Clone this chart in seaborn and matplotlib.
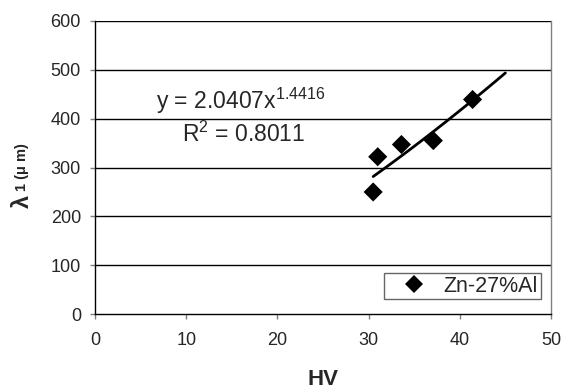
import numpy as np
import pandas as pd
import matplotlib
matplotlib.use('Agg')
import matplotlib.pyplot as plt
import seaborn as sns

# data
hv = [30.5, 31.0, 33.6, 37.1, 41.4]
lam1 = [250, 322, 347, 355, 439]
series_name = 'Zn-27%Al'

# power trendline as printed on the chart: y = a * x^b
fit_a = 2.0407
fit_b = 1.4416
fit_range = [30.5, 45.0]

xticks = [0, 10, 20, 30, 40, 50]
yticks = [0, 100, 200, 300, 400, 500, 600]

sns.set_style('white')
plt.rcParams['font.family'] = ['Liberation Sans', 'DejaVu Sans']
plt.rcParams['mathtext.fontset'] = 'custom'
plt.rcParams['mathtext.rm'] = 'Liberation Sans'
plt.rcParams['mathtext.it'] = 'Liberation Sans'

df = pd.DataFrame({'HV': hv, 'lam': lam1, 'alloy': series_name})
xs = np.linspace(fit_range[0], fit_range[1], 60)
trend = pd.DataFrame({'HV': xs, 'lam': fit_a * xs ** fit_b})

fig = plt.figure(figsize=(5.71, 3.9), dpi=100)
ax = fig.add_axes([95 / 571, 1 - 314.3 / 390, 456 / 571, 293.6 / 390])

for y in yticks[1:]:
    ax.axhline(y, color='black', lw=1.0, zorder=1)

sns.lineplot(data=trend, x='HV', y='lam', ax=ax, color='black', lw=2.0,
             legend=False, zorder=2)
sns.scatterplot(data=df, x='HV', y='lam', hue='alloy', palette=['black'],
                marker='D', s=95, edgecolor='black', linewidth=0, ax=ax, zorder=3)

ax.set_xlim(0, 50)
ax.set_ylim(0, 600)
ax.set_xticks(xticks)
ax.set_yticks(yticks)
ax.tick_params(axis='both', direction='out', length=3.6, width=1, labelsize=13,
               color='#808080', left=True, bottom=True)
ax.tick_params(axis='y', pad=6.5)
ax.tick_params(axis='x', pad=9.5)
ax.set_xlabel('')
ax.set_ylabel('')

for side in ['left', 'bottom']:
    ax.spines[side].set_color('black')
    ax.spines[side].set_linewidth(1.0)
ax.spines['top'].set_visible(False)
ax.spines['right'].set_color('#808080')
ax.spines['right'].set_linewidth(1.0)

leg = ax.legend(loc='lower right', bbox_to_anchor=(0.977, 0.051), borderaxespad=0,
                fontsize=15.5, frameon=True, fancybox=False, borderpad=0.12,
                handlelength=2.6, handletextpad=0.05, markerscale=0.9)
leg.get_frame().set_edgecolor('#404040')
leg.get_frame().set_linewidth(1.0)

fig.text(156 / 571, 1 - 109 / 390, r'y = 2.0407x$^{\mathregular{1.4416}}$',
         fontsize=16.5, va='baseline', ha='left')
fig.text(181.7 / 571, 1 - 141.7 / 390, r'R$^{\mathregular{2}}$ = 0.8011',
         fontsize=16.5, va='baseline', ha='left')

fig.text(323 / 571, 1 - 385 / 390, 'HV', fontsize=16, fontweight='bold',
         ha='center', va='baseline')
fig.text(22 / 571, 1 - 201 / 390, 'λ', fontsize=17, fontweight='bold',
         rotation=90, ha='center', va='center')
fig.text(22 / 571, 1 - 191 / 390, '1 (μ m)', fontsize=10.5, fontweight='bold',
         rotation=90, ha='center', va='bottom')

fig.savefig('out.png', dpi=100)
